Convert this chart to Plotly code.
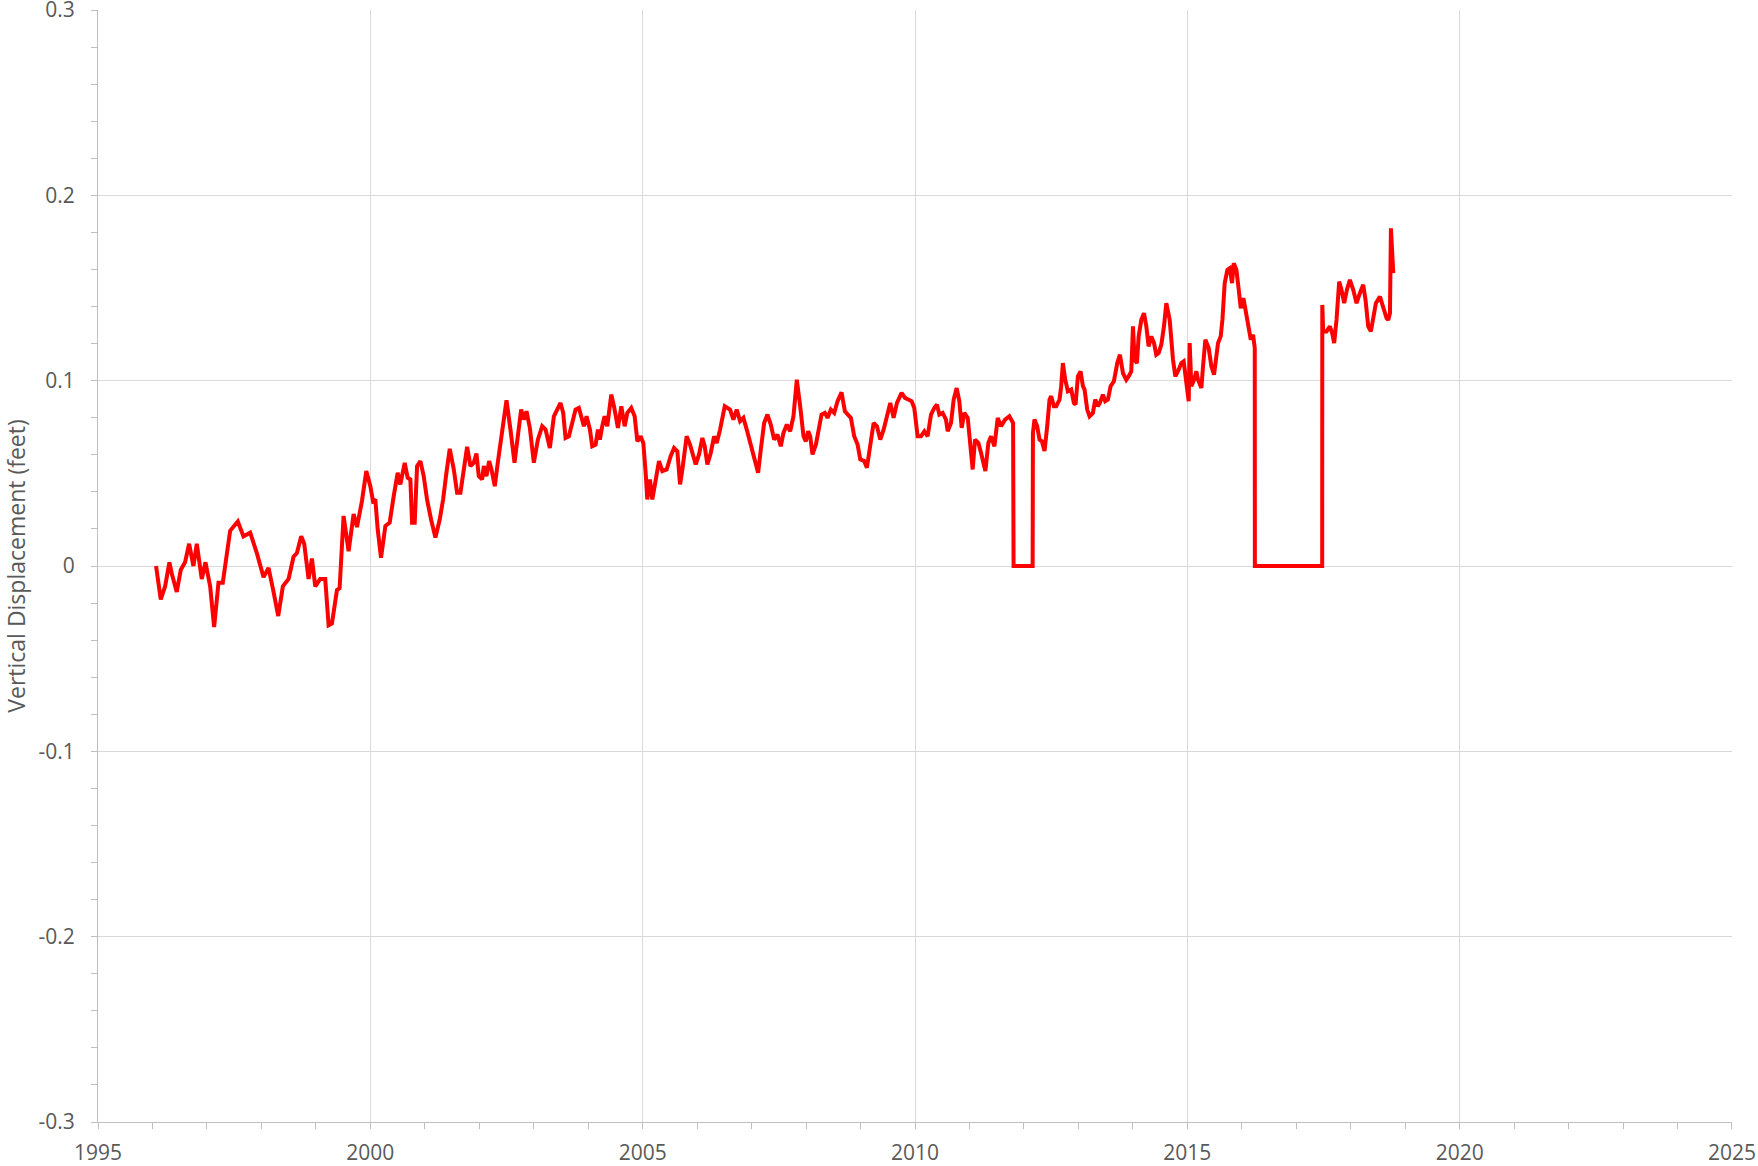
import numpy as np
import plotly.graph_objects as go

# ---------------- data (decimal year, vertical displacement in feet) ----------------
years_a = [1996.066, 1996.152, 1996.232, 1996.311, 1996.354, 1996.446, 1996.520, 1996.599, 1996.673, 1996.752,
           1996.814, 1996.905, 1996.973, 1997.059, 1997.132, 1997.212, 1997.291, 1997.426, 1997.567, 1997.671,
           1997.794, 1997.916, 1998.039, 1998.131, 1998.223, 1998.309, 1998.394, 1998.499, 1998.590, 1998.652,
           1998.731, 1998.786, 1998.866, 1998.927, 1998.989, 1999.080, 1999.172, 1999.234, 1999.295, 1999.387,
           1999.436, 1999.509, 1999.601, 1999.693, 1999.755, 1999.846]
disp_a = [0.000, -0.018, -0.011, 0.002, -0.004, -0.014, -0.002, 0.002, 0.012, 0.000,
          0.012, -0.007, 0.002, -0.011, -0.033, -0.009, -0.009, 0.019, 0.024, 0.016,
          0.018, 0.007, -0.006, -0.001, -0.014, -0.027, -0.011, -0.007, 0.005, 0.007,
          0.016, 0.012, -0.007, 0.004, -0.011, -0.007, -0.007, -0.032, -0.031, -0.013,
          -0.012, 0.027, 0.008, 0.028, 0.021, 0.035]

years_b = [1999.926, 2000.000, 2000.049, 2000.092, 2000.135, 2000.196, 2000.276, 2000.355, 2000.429, 2000.502,
           2000.551, 2000.631, 2000.686, 2000.735, 2000.766, 2000.815, 2000.858, 2000.919, 2000.980, 2001.041,
           2001.115, 2001.195, 2001.274, 2001.336, 2001.397, 2001.458, 2001.532, 2001.593, 2001.654, 2001.715,
           2001.777, 2001.838, 2001.899, 2001.948, 2001.991, 2002.052, 2002.083, 2002.132, 2002.181, 2002.224,
           2002.285, 2002.340, 2002.389, 2002.438, 2002.500, 2002.573, 2002.647, 2002.708, 2002.769, 2002.818,
           2002.867, 2002.929, 2003.002, 2003.076, 2003.155, 2003.217, 2003.296, 2003.370, 2003.431, 2003.492,
           2003.541, 2003.584, 2003.645, 2003.707, 2003.768, 2003.829]
disp_b = [0.0512, 0.0431, 0.0350, 0.0359, 0.0198, 0.0045, 0.0216, 0.0234, 0.0377, 0.0503,
          0.0440, 0.0557, 0.0476, 0.0467, 0.0234, 0.0234, 0.0539, 0.0566, 0.0485, 0.0359,
          0.0251, 0.0153, 0.0251, 0.0359, 0.0503, 0.0632, 0.0521, 0.0395, 0.0395, 0.0503,
          0.0643, 0.0539, 0.0557, 0.0607, 0.0485, 0.0467, 0.0539, 0.0485, 0.0566, 0.0521,
          0.0431, 0.0557, 0.0664, 0.0790, 0.0894, 0.0736, 0.0557, 0.0700, 0.0844, 0.0790,
          0.0835, 0.0745, 0.0557, 0.0682, 0.0754, 0.0736, 0.0637, 0.0808, 0.0844, 0.0880,
          0.0826, 0.0691, 0.0700, 0.0763, 0.0844, 0.0853]

years_c = [2003.921, 2003.970, 2004.032, 2004.074, 2004.136, 2004.179, 2004.215, 2004.258, 2004.301, 2004.350,
           2004.424, 2004.473, 2004.546, 2004.608, 2004.669, 2004.718, 2004.791, 2004.853, 2004.902, 2004.963,
           2005.012, 2005.055, 2005.085, 2005.134, 2005.177, 2005.220, 2005.300, 2005.361, 2005.441, 2005.514,
           2005.576, 2005.637, 2005.686, 2005.729, 2005.808, 2005.870, 2005.974, 2006.035, 2006.096, 2006.139,
           2006.188, 2006.250, 2006.311, 2006.360, 2006.421, 2006.507, 2006.605, 2006.666, 2006.727, 2006.789,
           2006.850, 2006.911, 2006.985, 2007.034, 2007.120, 2007.169, 2007.230, 2007.291, 2007.352, 2007.414,
           2007.475, 2007.536, 2007.585, 2007.647, 2007.708, 2007.769, 2007.830, 2007.892]
disp_c = [0.0754, 0.0808, 0.0736, 0.0646, 0.0655, 0.0736, 0.0682, 0.0754, 0.0808, 0.0754,
          0.0925, 0.0862, 0.0745, 0.0862, 0.0754, 0.0826, 0.0853, 0.0808, 0.0673, 0.0700,
          0.0664, 0.0503, 0.0359, 0.0467, 0.0359, 0.0431, 0.0566, 0.0512, 0.0521, 0.0593,
          0.0637, 0.0619, 0.0440, 0.0521, 0.0700, 0.0655, 0.0548, 0.0602, 0.0691, 0.0646,
          0.0548, 0.0610, 0.0700, 0.0664, 0.0736, 0.0862, 0.0844, 0.0790, 0.0844, 0.0781,
          0.0799, 0.0736, 0.0646, 0.0602, 0.0503, 0.0628, 0.0772, 0.0817, 0.0763, 0.0682,
          0.0709, 0.0646, 0.0718, 0.0763, 0.0727, 0.0808, 0.1005, 0.0862]

years_d = [2007.953, 2007.996, 2008.039, 2008.076, 2008.118, 2008.180, 2008.241, 2008.284, 2008.345, 2008.394,
           2008.455, 2008.517, 2008.578, 2008.651, 2008.713, 2008.774, 2008.823, 2008.884, 2008.946, 2008.995,
           2009.068, 2009.117, 2009.178, 2009.240, 2009.301, 2009.362, 2009.424, 2009.485, 2009.546, 2009.607,
           2009.669, 2009.754, 2009.816, 2009.877, 2009.938, 2009.987, 2010.018, 2010.048, 2010.110, 2010.171,
           2010.232, 2010.294, 2010.355, 2010.404, 2010.447, 2010.508, 2010.569, 2010.600, 2010.661, 2010.710,
           2010.765, 2010.814, 2010.857, 2010.906, 2010.968, 2011.017, 2011.059, 2011.102, 2011.164, 2011.213,
           2011.292, 2011.347, 2011.396, 2011.458, 2011.519, 2011.580, 2011.654, 2011.733, 2011.776, 2011.801]
disp_d = [0.0700, 0.0673, 0.0727, 0.0700, 0.0602, 0.0655, 0.0754, 0.0817, 0.0826, 0.0799,
          0.0844, 0.0826, 0.0889, 0.0937, 0.0835, 0.0817, 0.0799, 0.0700, 0.0655, 0.0575,
          0.0566, 0.0530, 0.0646, 0.0772, 0.0754, 0.0682, 0.0736, 0.0817, 0.0880, 0.0799,
          0.0880, 0.0934, 0.0907, 0.0898, 0.0889, 0.0853, 0.0754, 0.0700, 0.0700, 0.0727,
          0.0700, 0.0817, 0.0853, 0.0871, 0.0817, 0.0826, 0.0790, 0.0727, 0.0772, 0.0898,
          0.0960, 0.0889, 0.0745, 0.0826, 0.0799, 0.0655, 0.0521, 0.0682, 0.0664, 0.0610,
          0.0512, 0.0664, 0.0700, 0.0646, 0.0799, 0.0754, 0.0790, 0.0808, 0.0781, 0.0772]

years_gap1 = [2011.810, 2012.160]
disp_gap1 = [0.0, 0.0]

years_e = [2012.165, 2012.194, 2012.243, 2012.286, 2012.329, 2012.378, 2012.427, 2012.470, 2012.500, 2012.549,
           2012.592, 2012.654, 2012.684, 2012.715, 2012.758, 2012.807, 2012.868, 2012.917, 2012.948, 2012.991,
           2013.040, 2013.083, 2013.113, 2013.162, 2013.205, 2013.266, 2013.309, 2013.358, 2013.395, 2013.450,
           2013.493, 2013.542, 2013.591, 2013.652, 2013.714, 2013.763, 2013.818, 2013.879, 2013.922, 2013.971,
           2014.002, 2014.032, 2014.075, 2014.106, 2014.155, 2014.204, 2014.247, 2014.289, 2014.339, 2014.388,
           2014.430, 2014.473, 2014.522, 2014.571, 2014.614, 2014.676, 2014.737, 2014.780, 2014.841, 2014.890,
           2014.933, 2014.982, 2015.025, 2015.043, 2015.074, 2015.123, 2015.166, 2015.196, 2015.258, 2015.288,
           2015.331, 2015.392, 2015.441, 2015.490, 2015.564, 2015.613, 2015.644, 2015.686, 2015.735, 2015.778,
           2015.821, 2015.852, 2015.901, 2015.944, 2015.981, 2016.030, 2016.072, 2016.115]
disp_e = [0.0718, 0.0790, 0.0754, 0.0682, 0.0673, 0.0620, 0.0754, 0.0898, 0.0916, 0.0862,
          0.0862, 0.0898, 0.0970, 0.1095, 0.1005, 0.0943, 0.0952, 0.0880, 0.0871, 0.1023,
          0.1050, 0.0970, 0.0952, 0.0844, 0.0808, 0.0826, 0.0898, 0.0862, 0.0880, 0.0925,
          0.0889, 0.0898, 0.0970, 0.0997, 0.1095, 0.1140, 0.1041, 0.1005, 0.1023, 0.1050,
          0.1293, 0.1113, 0.1095, 0.1239, 0.1328, 0.1364, 0.1293, 0.1185, 0.1239, 0.1203,
          0.1140, 0.1149, 0.1194, 0.1293, 0.1418, 0.1328, 0.1113, 0.1023, 0.1059, 0.1095,
          0.1104, 0.1005, 0.0889, 0.1203, 0.0970, 0.1005, 0.1050, 0.1005, 0.0961, 0.1077,
          0.1221, 0.1176, 0.1077, 0.1032, 0.1203, 0.1239, 0.1328, 0.1526, 0.1598, 0.1607,
          0.1526, 0.1634, 0.1598, 0.1490, 0.1391, 0.1445, 0.1382, 0.1293]

years_f = [2016.165, 2016.207, 2016.238]
disp_f = [0.1221, 0.1248, 0.1176]

years_gap2 = [2016.240, 2017.476]
disp_gap2 = [0.0, 0.0]

years_g = [2017.478, 2017.494, 2017.555, 2017.617, 2017.659, 2017.696, 2017.739, 2017.788, 2017.831, 2017.880,
           2017.929, 2017.984, 2018.046, 2018.107, 2018.168, 2018.229, 2018.272, 2018.321, 2018.370, 2018.413,
           2018.462, 2018.536, 2018.597, 2018.658, 2018.689, 2018.720, 2018.738, 2018.763, 2018.781]
disp_g = [0.1409, 0.1266, 0.1266, 0.1293, 0.1257, 0.1203, 0.1328, 0.1535, 0.1490, 0.1418,
          0.1490, 0.1544, 0.1490, 0.1418, 0.1472, 0.1517, 0.1436, 0.1293, 0.1266, 0.1328,
          0.1418, 0.1454, 0.1391, 0.1337, 0.1328, 0.1364, 0.1822, 0.1687, 0.1580]

x_tick_vals = [1995, 2000, 2005, 2010, 2015, 2020, 2025]
x_tick_text = ["1995", "2000", "2005", "2010", "2015", "2020", "2025"]
y_tick_vals = [-0.3, -0.2, -0.1, 0.0, 0.1, 0.2, 0.3]
y_tick_text = ["-0.3", "-0.2", "-0.1", "0", "0.1", "0.2", "0.3"]
y_title = "Vertical Displacement (feet)"

# ---------------- assemble ----------------
segments = [(years_a, disp_a), (years_b, disp_b), (years_c, disp_c), (years_d, disp_d),
            (years_gap1, disp_gap1), (years_e, disp_e), (years_f, disp_f),
            (years_gap2, disp_gap2), (years_g, disp_g)]
years = []
disp = []
for ys, ds in segments:
    assert len(ys) == len(ds)
    years += ys
    disp += ds

AXIS = "#bfbfbf"
GRID = "#d9d9d9"
TXT = "#595959"
FONT = "Open Sans"

fig = go.Figure()
fig.add_trace(go.Scatter(x=years, y=disp, mode="lines",
                         line=dict(color="#ff0000", width=4), showlegend=False,
                         hoverinfo="x+y"))

fig.update_layout(
    width=1758, height=1166,
    margin=dict(l=98, r=26, t=10, b=44, autoexpand=False),
    paper_bgcolor="white", plot_bgcolor="white",
    font=dict(family=FONT, size=21, color=TXT),
    showlegend=False,
)

fig.update_xaxes(
    range=[1995, 2025.0001], tickmode="array", tickvals=x_tick_vals, ticktext=x_tick_text,
    ticks="outside", ticklen=6, tickcolor=AXIS, tickwidth=1,
    showline=True, linecolor=AXIS, linewidth=1,
    showgrid=True, gridcolor=GRID, gridwidth=1, zeroline=False,
    minor=dict(tickmode="array", tickvals=list(np.arange(1995, 2026, 1)),
               ticks="outside", ticklen=6, tickcolor=AXIS, showgrid=False),
    ticklabelstandoff=6, ticklabeloverflow="allow", automargin=False,
    tickfont=dict(family=FONT, size=21, color=TXT),
)
fig.update_yaxes(
    range=[-0.3, 0.30001], tickmode="array", tickvals=y_tick_vals, ticktext=y_tick_text,
    ticks="outside", ticklen=6, tickcolor=AXIS, tickwidth=1,
    showline=True, linecolor=AXIS, linewidth=1,
    showgrid=True, gridcolor=GRID, gridwidth=1, zeroline=False,
    minor=dict(tickmode="array", tickvals=[round(v, 2) for v in np.arange(-0.3, 0.3001, 0.02)],
               ticks="outside", ticklen=6, tickcolor=AXIS, showgrid=False),
    ticklabelstandoff=12, ticklabeloverflow="allow", automargin=False,
    tickfont=dict(family=FONT, size=21, color=TXT),
    title=dict(text=y_title, font=dict(family=FONT, size=23, color=TXT), standoff=8),
)

fig.write_html("out.html", config={"displayModeBar": False},
               post_script="document.body.style.margin='0';document.body.style.overflow='hidden';")
